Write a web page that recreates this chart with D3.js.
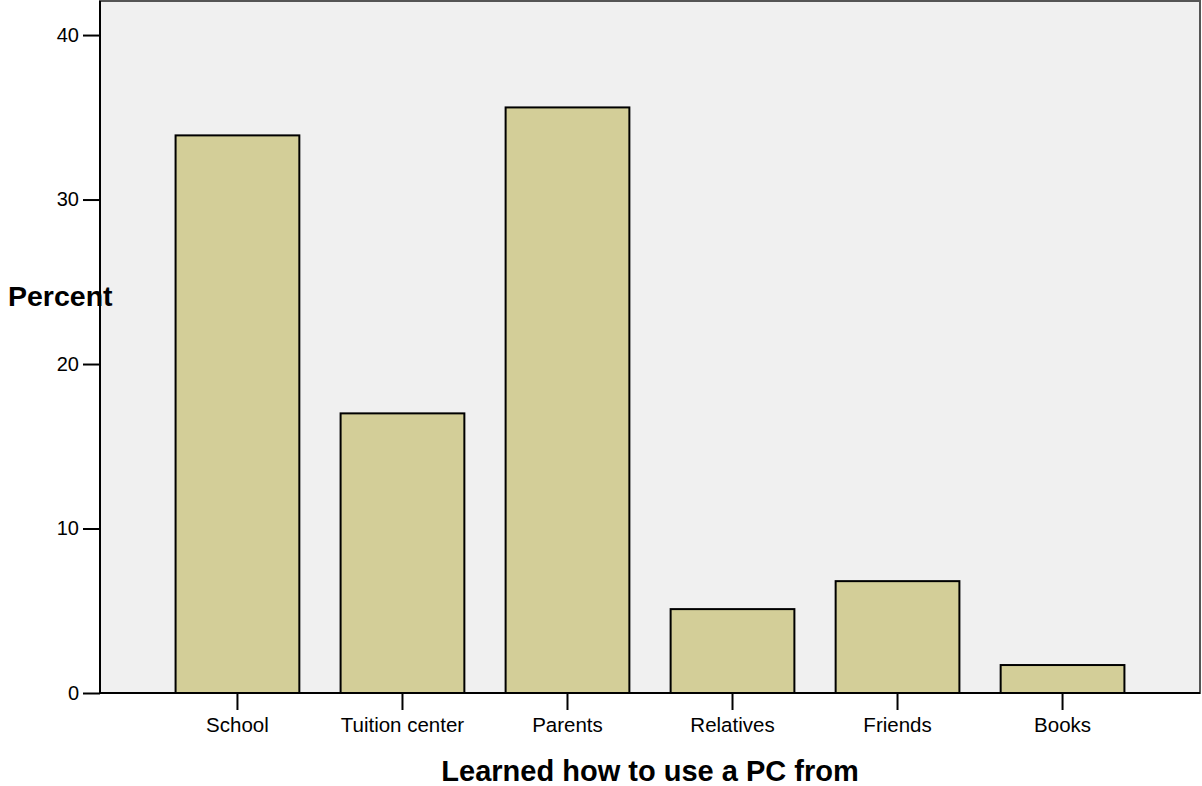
<!DOCTYPE html>
<html>
<head>
<meta charset="utf-8">
<script src="https://d3js.org/d3.v7.min.js"></script>
<style>
  body { margin: 0; background: #fff; }
  text { font-family: "Liberation Sans", Arial, sans-serif; fill: #000; }
</style>
</head>
<body>
<div id="chart"></div>
<script>
// data
var categories = ["School", "Tuition center", "Parents", "Relatives", "Friends", "Books"];
var percents = [33.9, 17.0, 35.6, 5.1, 6.8, 1.7];
var yTicks = [0, 10, 20, 30, 40];

var width = 1202, height = 786;
var plotLeft = 100, plotRight = 1200, plotTop = 1, plotBottom = 693;

var svg = d3.select("#chart").append("svg")
    .attr("width", width)
    .attr("height", height);

var x = d3.scaleBand()
    .domain(categories)
    .range([plotLeft, plotRight])
    .paddingInner(0.25)
    .paddingOuter(0.458);

var y = d3.scaleLinear()
    .domain([0, 42.07])
    .range([plotBottom, plotTop]);

// plot background + frame
svg.append("rect")
    .attr("x", plotLeft).attr("y", plotTop)
    .attr("width", plotRight - plotLeft).attr("height", plotBottom - plotTop)
    .style("fill", "#f0f0f0")
    .style("stroke", "#555")
    .style("stroke-width", 2);

// bars
svg.append("g").selectAll("rect")
    .data(percents)
    .enter().append("rect")
    .attr("x", function(d, i) { return x(categories[i]); })
    .attr("y", function(d) { return y(d); })
    .attr("width", x.bandwidth())
    .attr("height", function(d) { return y(0) - y(d); })
    .style("fill", "#d3ce98")
    .style("stroke", "#000")
    .style("stroke-width", 2);

// y axis
var yAxis = svg.append("g")
    .attr("transform", "translate(" + plotLeft + ",0)")
    .call(d3.axisLeft(y).tickValues(yTicks).tickSize(17).tickPadding(4).tickFormat(d3.format("d")));
yAxis.select(".domain").attr("d", "M0," + plotTop + "V" + plotBottom).style("stroke", "#000").style("stroke-width", 2);
yAxis.selectAll(".tick line").style("stroke", "#000").style("stroke-width", 2);
yAxis.selectAll("text").style("font-size", "20px").style("font-family", "Liberation Sans, Arial, sans-serif");

// x axis
var xAxis = svg.append("g")
    .attr("transform", "translate(0," + plotBottom + ")")
    .call(d3.axisBottom(x).tickSize(17).tickPadding(7));
xAxis.select(".domain").attr("d", "M" + plotLeft + ",0H" + plotRight).style("stroke", "#000").style("stroke-width", 2);
xAxis.selectAll(".tick line").style("stroke", "#000").style("stroke-width", 2);
xAxis.selectAll("text").style("font-size", "20.5px").style("font-family", "Liberation Sans, Arial, sans-serif");

// titles
svg.append("text")
    .attr("x", 8).attr("y", 306)
    .style("font-size", "28.5px")
    .style("font-weight", "bold")
    .text("Percent");

svg.append("text")
    .attr("x", (plotLeft + plotRight) / 2).attr("y", 781)
    .attr("text-anchor", "middle")
    .style("font-size", "29px")
    .style("font-weight", "bold")
    .text("Learned how to use a PC from");
</script>
</body>
</html>
